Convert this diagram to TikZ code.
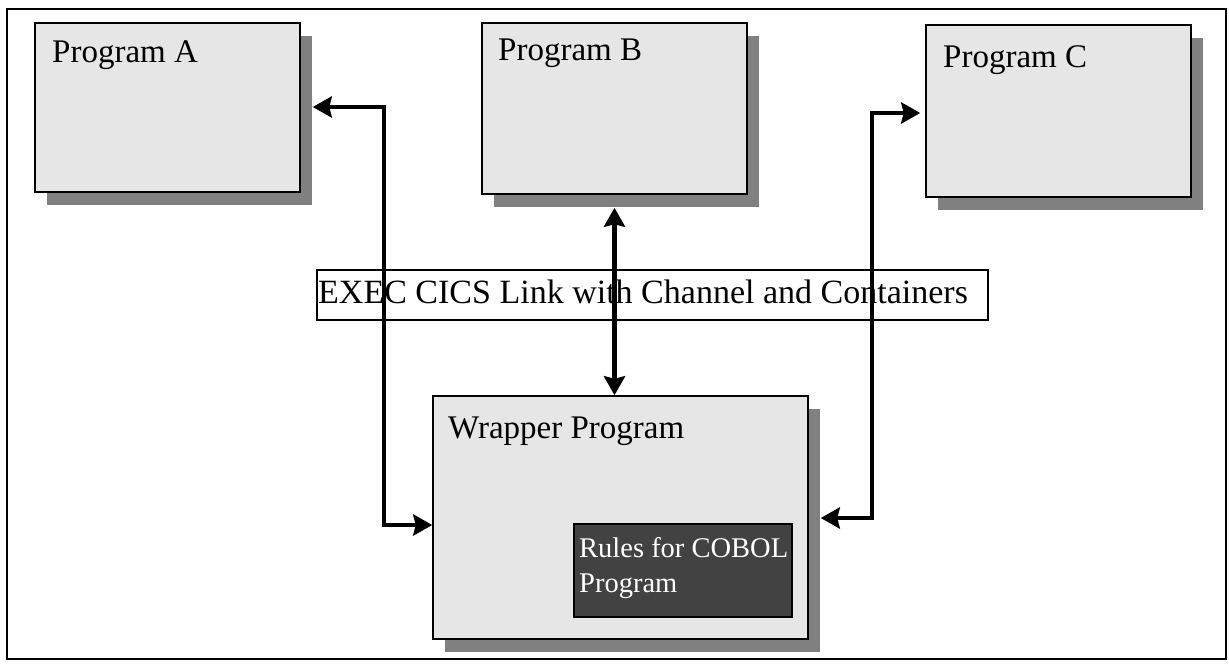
\documentclass[tikz,border=0pt]{standalone}
\usepackage{fontspec}
\setmainfont{Liberation Serif}
\usetikzlibrary{arrows.meta,shadows}
\definecolor{boxgray}{RGB}{230,230,230}
\definecolor{shadegray}{RGB}{128,128,128}
\definecolor{rulesgray}{RGB}{66,66,66}
\begin{document}
\begin{tikzpicture}[x=1pt,y=-1pt,
  prog/.style={rectangle, draw=black, line width=1.5pt, fill=boxgray, inner sep=0pt,
    drop shadow={shadow xshift=12pt, shadow yshift=-13pt, fill=shadegray, opacity=1}},
  title/.style={anchor=base west, inner sep=0pt, font=\fontsize{33}{40}\selectfont},
  link/.style={line width=4.5pt, line join=miter,
    {Stealth[length=19pt,width=21pt,inset=2.5pt]}-{Stealth[length=19pt,width=21pt,inset=2.5pt]}},
]
\useasboundingbox (0,0) rectangle (1229,664);
% outer frame
\draw[line width=2.2pt] (7,9) rectangle (1226,659);

% calling programs
\node[prog, minimum width=265pt, minimum height=169pt] (pa) at (167.5,107.5) {};
\node[title] (ta) at (52,62) {Program A};
\node[prog, minimum width=265pt, minimum height=171pt] (pb) at (614.5,108.5) {};
\node[title] (tb) at (498,60) {Program B};
\node[prog, minimum width=265pt, minimum height=172pt] (pc) at (1058.5,111) {};
\node[title] (tc) at (943,67) {Program C};

% wrapper with embedded rules
\node[prog, minimum width=375pt, minimum height=243pt] (wr) at (620.5,517.5) {};
\node[title] (tw) at (448,438) {Wrapper Program};
\node[rectangle, draw=black, line width=1.5pt, fill=rulesgray, inner sep=0pt,
      minimum width=218pt, minimum height=93pt] (rules) at (683,570.5) {};
\node[anchor=base west, inner sep=0pt, text=white, align=left,
      font=\fontsize{28.5}{35}\selectfont] (trules) at (579,592) {Rules for COBOL\\Program};

% caption box
\node[rectangle, draw=black, line width=1.2pt, fill=white, inner sep=0pt,
      minimum width=671pt, minimum height=50pt] (lbl) at (652.5,295) {};
\node[anchor=base west, inner sep=0pt, font=\fontsize{34}{40}\selectfont] (tlbl) at (318,303)
  {EXEC CICS Link with Channel and Containers};

% links
\coordinate (ja1) at (384,107);
\coordinate (ja2) at (384,525);
\coordinate (jc1) at (872,113);
\coordinate (jc2) at (872,518);
\draw[link] ([xshift=12pt]pa.east |- ja1) -- (ja1) -- (ja2) -- (wr.west |- ja2);
\draw[link] ([yshift=-13pt]pb.south) -- (pb.south |- wr.north);
\draw[link] ([xshift=-5pt]pc.west |- jc1) -- (jc1) -- (jc2) -- ([xshift=12pt]wr.east |- jc2);
\end{tikzpicture}
\end{document}
